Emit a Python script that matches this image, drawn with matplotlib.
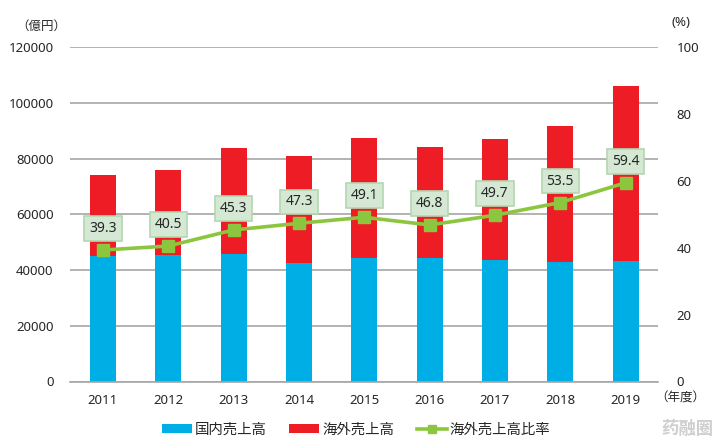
import matplotlib
matplotlib.use('Agg')
import matplotlib.pyplot as plt
import numpy as np

plt.rcParams['font.family'] = ['Noto Sans', 'Noto Sans CJK JP', 'DejaVu Sans']

years = ['2011', '2012', '2013', '2014', '2015', '2016', '2017', '2018', '2019']
domestic = [45000, 45300, 45700, 42600, 44400, 44400, 43700, 42900, 43200]
overseas = [29100, 30600, 37900, 38300, 42950, 39700, 43300, 48760, 62800]
ratio = [39.3, 40.5, 45.3, 47.3, 49.1, 46.8, 49.7, 53.5, 59.4]
left_ticks = [0, 20000, 40000, 60000, 80000, 100000, 120000]
right_ticks = [0, 20, 40, 60, 80, 100]

W, H = 719, 447
txt = '#262626'
fig = plt.figure(figsize=(W / 100, H / 100), dpi=100)
ax = fig.add_axes([70.3 / W, 1 - 381.5 / H, 588 / W, 334.5 / H])
x = np.arange(len(years))

ax.set_axisbelow(True)
ax.yaxis.grid(True, color='#a6a6a6', lw=1.2)
ax.bar(x, domestic, 0.4, color='#00aee6', label='国内売上高', zorder=2)
ax.bar(x, overseas, 0.4, bottom=domestic, color='#ee1c25', label='海外売上高', zorder=2)
ax.set_xlim(-0.5, 8.5)
ax.set_ylim(0, 120000)
ax.set_yticks(left_ticks)
ax.set_xticks(x, years)
ax.tick_params(length=0, labelsize=9.5, labelcolor=txt)
ax.tick_params(axis='x', pad=9)
ax.tick_params(axis='y', pad=12)
for s in ['top', 'left', 'right']:
    ax.spines[s].set_visible(False)
ax.spines['bottom'].set_color('#a6a6a6')
ax.spines['bottom'].set_linewidth(1.2)

ax2 = ax.twinx()
line, = ax2.plot(x, ratio, color='#8cc63f', lw=2.6, marker='s', ms=8.5, label='海外売上高比率', zorder=5)
ax2.set_ylim(0, 100)
ax2.set_yticks(right_ticks)
ax2.tick_params(length=0, labelsize=9.5, labelcolor=txt, pad=13)
for s in ax2.spines.values():
    s.set_visible(False)

# the boxes sit a fixed distance above the markers
for i, r in enumerate(ratio):
    ax2.text(x[i], r + 6.4, f'{r}', ha='center', va='center', fontsize=10, color=txt, zorder=6,
             bbox=dict(boxstyle='square,pad=0.35', fc='#d5e8d4', ec='#b5d6b0', lw=1.2))

fig.text(41 / W, 1 - 26 / H, '（億円）', ha='center', va='center', fontsize=9, color=txt)
fig.text(681 / W, 1 - 22 / H, '(%)', ha='center', va='center', fontsize=9.5, color=txt)
fig.text(680 / W, 1 - 398 / H, '（年度）', ha='center', va='center', fontsize=9, color=txt)

h1, l1 = ax.get_legend_handles_labels()
fig.legend(h1 + [line], l1 + [line.get_label()], loc='center', bbox_to_anchor=(356 / W, 1 - 430 / H), ncol=3,
           frameon=False, fontsize=10.4, labelcolor=txt, handlelength=2.1, handleheight=0.55,
           handletextpad=0.2, columnspacing=1.55, markerscale=0.75)

# watermark
fig.text(687 / W, 1 - 429 / H, '药融圈', ha='center', va='center', fontsize=12.5, color='#cfcfcf', fontweight='bold')

fig.savefig('out.png', dpi=100)
